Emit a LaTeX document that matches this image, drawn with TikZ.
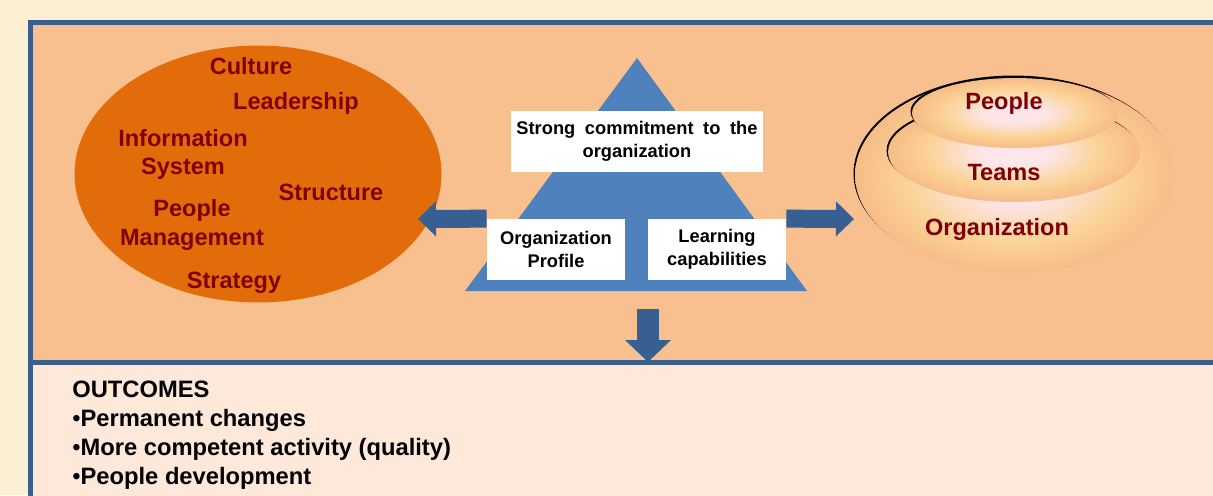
\documentclass[tikz,border=0pt]{standalone}
\usepackage{fontspec}
\setmainfont{Liberation Sans}
\usepackage{tikz}
\usetikzlibrary{shapes.geometric,arrows.meta}
\definecolor{cream}{RGB}{253,239,212}
\definecolor{peach}{RGB}{249,192,143}
\definecolor{pale}{RGB}{253,232,218}
\definecolor{frameblue}{RGB}{58,95,138}
\definecolor{triblue}{RGB}{79,129,189}
\definecolor{arrowblue}{RGB}{55,95,145}
\definecolor{burnt}{RGB}{227,108,10}
\definecolor{darkred}{RGB}{128,0,0}
\definecolor{ringwhite}{RGB}{252,230,234}
\definecolor{ringpeach}{RGB}{250,205,172}
\definecolor{ringorange}{RGB}{245,172,124}
\definecolor{ringyellow}{RGB}{251,212,152}
\pgfdeclareradialshading{ring}{\pgfpoint{0cm}{0cm}}{color(0bp)=(ringwhite); color(7bp)=(ringwhite); color(17bp)=(ringyellow); color(30bp)=(ringorange); color(40bp)=(ringyellow); color(47bp)=(ringwhite); color(50bp)=(ringwhite)}

\begin{document}
\begin{tikzpicture}[x=0.02cm,y=-0.02cm]

  \tikzstyle{factor}=[text=darkred,font=\fontsize{13.4}{16}\selectfont\bfseries,align=center,inner sep=0pt]
  \tikzstyle{whitebox}=[fill=white,font=\fontsize{10.4}{13}\selectfont\bfseries,align=center,inner sep=0pt]
  \tikzstyle{ringnode}=[ellipse,shading=ring,inner sep=0pt]
  \tikzstyle{ringshadow}=[ellipse,fill=black,inner sep=0pt]
  \tikzstyle{bigarrow}=[draw=arrowblue,line width=0.36cm,-{Triangle[length=0.36cm,width=0.7cm,line width=0pt,fill=arrowblue]}]

  \useasboundingbox (0,0) rectangle (1213,495);
  \fill[cream] (0,0) rectangle (1213,495);

  % frame
  \filldraw[fill=peach,draw=frameblue,line width=0.1cm] (30,22) rectangle (1240,362);
  \filldraw[fill=pale,draw=frameblue,line width=0.1cm] (30,362) rectangle (1240,530);

  % left ellipse
  \node[ellipse,fill=burnt,minimum width=7.34cm,minimum height=5.14cm,inner sep=0pt] (factors) at (258,174) {};
  \node[factor] (culture)    at (251,66)  {Culture};
  \node[factor] (leadership) at (296,103) {Leadership};
  \node[factor] (infosys)    at (183,154) {Information\\System};
  \node[factor] (structure)  at (331,192) {Structure};
  \node[factor] (peoplemgmt) at (192,225) {People\\Management};
  \node[factor] (strategy)   at (234,283) {Strategy};

  % triangle
  \coordinate (apex)  at (637,58);
  \coordinate (baseL) at (465,291);
  \coordinate (baseR) at (807,291);
  \fill[triblue] (apex) -- (baseL) -- (baseR) -- cycle;

  \node[whitebox,minimum width=5.04cm,minimum height=1.22cm] (commit)   at (637,141.5) {Strong\hspace{0.25em} commitment\hspace{0.25em} to\hspace{0.25em} the\\organization};
  \node[whitebox,minimum width=2.76cm,minimum height=1.22cm] (profile)  at (556,249.5) {Organization\\Profile};
  \node[whitebox,minimum width=2.76cm,minimum height=1.22cm] (learning) at (717,249.5) {Learning\\capabilities};

  % arrows
  \coordinate (leftTip)  at (418,219);
  \coordinate (rightTip) at (854,219);
  \coordinate (downTop)  at (648,309);
  \coordinate (downTip)  at (648,362);
  \draw[bigarrow] (profile.north west) -- (leftTip);
  \draw[bigarrow] (learning.north east) -- (rightTip);
  \draw[bigarrow,line width=0.44cm,-{Triangle[length=0.44cm,width=0.92cm,line width=0pt,fill=arrowblue]}] (downTop) -- (downTip);

  % right ellipses
  \node[ringshadow,minimum width=6.4cm,minimum height=3.92cm]  at (1013.5,173.5) {};
  \node[ringnode,minimum width=6.4cm,minimum height=3.92cm]    (org)   at (1015,175) {};
  \node[ringshadow,minimum width=5.04cm,minimum height=2cm]    at (1012.5,150.5) {};
  \node[ringnode,minimum width=5.04cm,minimum height=2cm]      (teams) at (1014,152) {};
  \node[ringshadow,minimum width=4.12cm,minimum height=1.4cm]  at (1013.5,111.5) {};
  \node[ringnode,minimum width=4.12cm,minimum height=1.4cm]    (people) at (1015,113) {};
  \node[factor] (peoplelabel) at (1004,103) {People};
  \node[factor] (teamslabel)  at (1004,173) {Teams};
  \node[factor] (orglabel)    at (997,229)  {Organization};

  % outcomes
  \node[anchor=west,align=left,inner sep=0pt,font=\fontsize{13.5}{16.4}\selectfont\bfseries] (outcomes) at (72,435)
    {OUTCOMES\\{\mdseries •}Permanent changes\\{\mdseries •}More competent activity (quality)\\{\mdseries •}People development};

\end{tikzpicture}
\end{document}
